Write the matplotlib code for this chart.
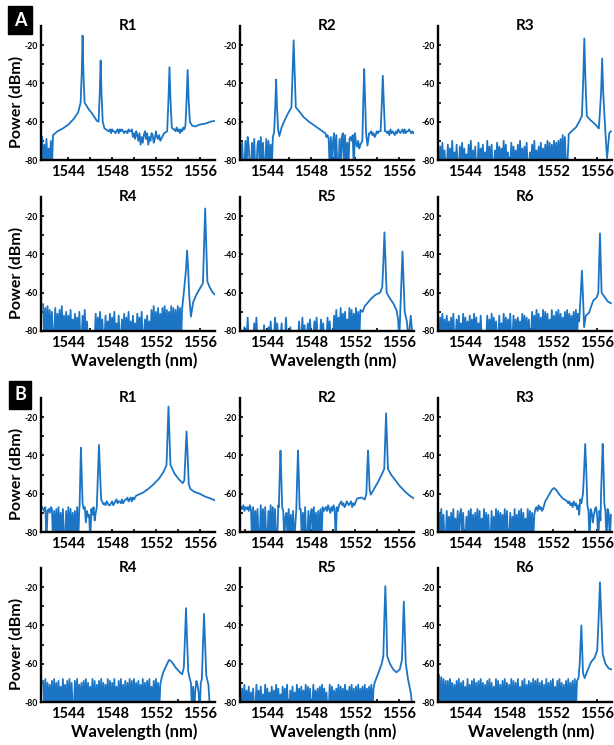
import matplotlib
matplotlib.use("Agg")
import matplotlib.pyplot as plt

plt.rcParams['font.family'] = ['Lato', 'DejaVu Sans']
plt.rcParams['font.weight'] = 'bold'

# spectra: (wavelength nm, power dBm) points, or (start nm, top dBm, "noise")
# noise string: one sample every 0.1 nm, digit = dB below top, x = dropout
A_R1 = [
    (1541.6, -66, "2x6x3x8x4x"),
    (1542.6, -67), (1543.0, -65), (1543.5, -63.5), (1544.0, -61.5), (1544.5, -58.5),
    (1544.9, -55), (1545.12, -50), (1545.22, -35), (1545.3, -15), (1545.38, -35),
    (1545.48, -50), (1545.8, -53),
    (1546.2, -56), (1546.6, -59.5), (1546.76, -60), (1546.87, -45), (1546.95, -28),
    (1547.03, -45), (1547.14, -60),
    (1547.3, -63.5), (1547.55, -64.5),
    (1547.7, -63, "2131223213 1212322312 21"),
    (1549.9, -65, "3140251736 2041735126 403425"),
    (1552.75, -66), (1553.03, -65), (1553.15, -48), (1553.24, -31.5), (1553.33, -48),
    (1553.45, -63), (1553.6, -64),
    (1553.7, -63, "1202131201"),
    (1554.7, -62), (1554.81, -48), (1554.9, -33), (1554.99, -48), (1555.1, -60),
    (1555.3, -62), (1555.6, -62.5),
    (1556.0, -61.5), (1556.5, -61), (1557.0, -60), (1557.4, -59.5),
]
A_R2 = [
    (1541.5, -68, "1x3xx2x05x x3x1xx42x0 x3xx1x2x4x 0"),
    (1544.62, -65.5), (1544.72, -52), (1544.8, -38), (1544.88, -52), (1544.98, -64),
    (1545.1, -67.5), (1545.3, -63),
    (1545.6, -59), (1545.9, -55.5), (1546.2, -52.5), (1546.3, -35), (1546.4, -17.5),
    (1546.5, -35), (1546.6, -52.5),
    (1546.9, -54.5), (1547.3, -57.5), (1547.8, -60), (1548.3, -62), (1548.8, -64),
    (1549.15, -65.5),
    (1549.3, -65, "1324x3x51x 2xx4x31x2x 6x4352x1"),
    (1552.1, -68, "35264"),
    (1552.68, -70), (1552.77, -48), (1552.85, -32.5), (1552.93, -48), (1553.02, -66),
    (1553.15, -72.5), (1553.3, -66),
    (1553.4, -64, "213243121"),
    (1554.35, -65), (1554.46, -50), (1554.55, -36), (1554.64, -50), (1554.75, -65),
    (1554.85, -64, "1213021231 2012102021 101212"),
]
A_R3 = [
    (1541.6, -70, "x3x1x5xx2x 4x0x6x2xx3 x1x4x7x2x0 x5x3xx1x4x 2x6x0x3x2x x5x1x3x4x0"
                  "x2x6xx1x3x 5x2x0x4x3x 1xx6x2x0x5 x3x1x4x2x0 x1x2x0x1x0"),
    (1552.6, -67, "x2x0x1x"),
    (1553.3, -85), (1553.45, -66.5), (1553.8, -64.5), (1554.1, -63), (1554.4, -60),
    (1554.65, -57), (1554.77, -38), (1554.87, -16.5), (1554.97, -38), (1555.1, -57),
    (1555.4, -59), (1555.8, -61),
    (1556.2, -63.5), (1556.4, -45), (1556.5, -27), (1556.6, -45), (1556.8, -66),
    (1556.95, -79), (1557.15, -66), (1557.3, -65),
]
A_R4 = [
    (1541.7, -66, "0x2x1x3x4x x2x5x3x1x6"),
    (1543.7, -69, "x1x3x0x5x2 x4x1xx3x0x 6x"),
    (1545.9, -80, "xxxxxx"),
    (1546.5, -70, "1x3x0x4xx2 x5x1x3x0x6 x2xx4x1x3x 0x5x2x6x1x 3x0xx4x2x5"),
    (1551.5, -67, "x2x0x3x1x4 x1x0x2x3x0 x1x2x0x1x"),
    (1554.4, -68), (1554.55, -60), (1554.75, -48), (1554.85, -38), (1554.95, -48),
    (1555.05, -62), (1555.12, -67),
    (1555.2, -72.5), (1555.4, -65), (1555.7, -61), (1556.0, -58), (1556.3, -55),
    (1556.4, -36), (1556.5, -16), (1556.6, -36), (1556.7, -54), (1556.9, -57),
    (1557.2, -60), (1557.4, -61),
]
A_R5 = [
    (1541.6, -73, "xxx5xx0xxx xx3x0xxxxx x4xxx5x2xx x0x3xxx3xx x0xxx5xxxx xxx2xx0x4x"
                  "x3x1xxx2x0 xxx1x3xxx0 x2xx"),
    (1550.0, -68, "x4x1x5x0x3 x2x6x0x1x3 x0x2x1"),
    (1552.7, -70), (1552.9, -67), (1553.2, -65), (1553.5, -63), (1553.9, -61),
    (1554.3, -60), (1554.5, -57), (1554.6, -44), (1554.7, -28.5), (1554.8, -44),
    (1554.9, -60), (1555.2, -63),
    (1555.5, -65.5), (1555.8, -69), (1555.95, -74), (1556.05, -85), (1556.15, -70),
    (1556.26, -52), (1556.35, -38.5), (1556.44, -52), (1556.55, -70), (1556.75, -75),
    (1556.9, -85), (1557.1, -72), (1557.3, -85),
]
A_R6 = [
    (1541.6, -71, "x2x0x3x1x4 x2x0xx3x1x 5x0x2x4x1x 3x0x2x5x1"),
    (1545.5, -80, "xxxxx"),
    (1546.0, -71, "1x3x0x2x4x x1x5x0x2x3 x0xx1x3x2x 4x0x1x2x3x"),
    (1550.0, -69, "x1x3x0x2x4 x0x1x2x5x0 x3x1x0x2x4 x1x0x2x3x1 x0x2"),
    (1554.4, -75), (1554.55, -60), (1554.65, -48.5), (1554.75, -62), (1554.85, -78),
    (1555.0, -72), (1555.3, -70.5),
    (1555.5, -67), (1555.7, -64), (1556.0, -62.5), (1556.15, -60), (1556.22, -45),
    (1556.3, -29), (1556.38, -45), (1556.45, -60), (1556.7, -62), (1557.0, -64.5),
    (1557.3, -65.5),
]
B_R1 = [
    (1541.6, -67, "0120x21301 x2x1x0x3x1 xx2x0x1x3x 2x0x1"),
    (1545.03, -66), (1545.09, -50), (1545.15, -36), (1545.22, -50), (1545.3, -65),
    (1545.4, -66, "219365x251 84"),
    (1546.6, -67), (1546.7, -50), (1546.8, -34.5), (1546.9, -50), (1547.0, -63),
    (1547.2, -65.5),
    (1547.3, -64, "1201221021"),
    (1548.3, -63, "1021120210"),
    (1549.3, -62, "10210201"),
    (1550.2, -61), (1550.8, -59.5), (1551.3, -57.5), (1551.8, -55), (1552.3, -52),
    (1552.7, -48.5), (1552.97, -45), (1553.06, -30), (1553.15, -14.5), (1553.24, -30),
    (1553.33, -45), (1553.7, -49.5),
    (1554.1, -52.5), (1554.45, -54.5), (1554.6, -53), (1554.7, -40), (1554.8, -27.5),
    (1554.9, -40), (1555.0, -55),
    (1555.15, -57.5), (1555.5, -59), (1556.0, -60), (1556.5, -61.5), (1557.0, -62.5),
    (1557.4, -63.5),
]
B_R2 = [
    (1541.6, -66, "1203121302 x1x3x2xx0x 2x1xx3x0x1 x2xx0"),
    (1545.05, -67), (1545.12, -52), (1545.2, -37.5), (1545.28, -52), (1545.35, -67),
    (1545.45, -67, "2x53x1x4x2x"),
    (1546.65, -68), (1546.72, -52), (1546.8, -37.5), (1546.88, -52), (1546.95, -68),
    (1547.05, -67, "1x3x0xx2x4 1x0x3x2x1x 02"),
    (1549.25, -66, "2130241302 x130"),
    (1550.65, -64, "1021320121 0312"),
    (1552.2, -62.5), (1552.6, -62), (1552.9, -63), (1553.05, -60), (1553.12, -48),
    (1553.2, -37.5), (1553.28, -48), (1553.35, -58), (1553.45, -60.5), (1553.7, -58),
    (1554.1, -54), (1554.45, -50),
    (1554.68, -47), (1554.77, -32), (1554.85, -18), (1554.93, -32), (1555.02, -47),
    (1555.3, -50), (1555.7, -53),
    (1556.1, -56), (1556.6, -59), (1557.0, -61), (1557.4, -62.5),
]
B_R3 = [
    (1541.6, -68, "2x0x3xx1x4 x2x0x5x1x3 0x2xx4x1x0 x3x2x0x1x5 x0x2x3xx1x 4x0x1x2x3x"
                  "0x1xx2x4x0 x3x1x0x2x5 x0x1x2x3"),
    (1550.4, -66, "21302132"),
    (1551.3, -64), (1551.6, -61), (1551.9, -58), (1552.1, -57), (1552.3, -58),
    (1552.6, -60.5), (1552.9, -62.5), (1553.2, -63.5),
    (1553.3, -63, "1213241325 3802"),
    (1554.75, -60), (1554.85, -48), (1554.95, -34), (1555.05, -48), (1555.15, -66),
    (1555.25, -66, "3x2495216x38"),
    (1556.4, -60), (1556.47, -48), (1556.55, -34), (1556.63, -48), (1556.7, -65),
    (1556.8, -67, "2x13x4"),
]
B_R4 = [
    (1541.7, -68, "1x0x2x3x1x 0x2x1x4x0x 3x1x0x2xx1 x0x3x2x1x0 x2x4x0x1x3 x1x0x2x3x0"
                  "x1x2x0x4x1 x0x3x1x2x0 x1x0x2x1x3 x0x2x1x0x4 x1x0x2x3"),
    (1552.5, -68), (1552.7, -64), (1552.95, -61), (1553.2, -58), (1553.45, -59),
    (1553.8, -62), (1554.2, -64.5), (1554.4, -65.5), (1554.55, -62), (1554.66, -46),
    (1554.75, -31), (1554.84, -46), (1554.95, -64), (1555.1, -68),
    (1555.2, -68, "2x4x6137x2"),
    (1556.2, -68), (1556.3, -50), (1556.4, -34), (1556.5, -50), (1556.6, -66),
    (1556.8, -71), (1556.95, -85),
]
B_R5 = [
    (1541.6, -71, "x2x0x3x1x4 x2xx0x3x1x 5x0x2x4x1x 3x0x2x5x1x 2x0xx3x1x4 x0x2x1x3x0"
                  "x1x2xx0x3x 2x1x0x2x4x x0x1x3x2x0 x1x2x0x3x1 x0x2x1x0x2 x1x0x2x1x0 x2"),
    (1553.8, -70), (1554.0, -67), (1554.2, -64), (1554.45, -60), (1554.6, -56),
    (1554.69, -36), (1554.78, -19.5), (1554.87, -36), (1554.95, -56), (1555.2, -60),
    (1555.5, -63), (1555.8, -64.5),
    (1556.1, -63), (1556.3, -58), (1556.39, -42), (1556.47, -27.5), (1556.55, -42),
    (1556.65, -60), (1556.85, -68), (1557.1, -75), (1557.3, -85),
]
B_R6 = [
    (1541.6, -66, "0x1x2x3"),
    (1542.3, -68, "x1x0x2x3x1 x0x2x1x4x0 x3x1x0x2x1 x0x2x3x1x0 x2x4x0x1x3 x1x0x2x3x0"
                  "x1x2x0x4x1 x0x3x1x2x0 x1x0x2x1x3 x0x2x1x0x4 x1x0x2x3x1 x0x2x1x0x1 0"),
    (1554.35, -67), (1554.45, -60), (1554.53, -50), (1554.6, -40), (1554.67, -52),
    (1554.75, -65), (1554.9, -67.5),
    (1555.2, -63), (1555.5, -59), (1555.8, -57), (1556.05, -53), (1556.18, -36),
    (1556.3, -17.5), (1556.42, -36), (1556.55, -55), (1556.8, -60), (1557.1, -62.5),
    (1557.4, -63),
]

PANELS = {"A": [A_R1, A_R2, A_R3, A_R4, A_R5, A_R6],
          "B": [B_R1, B_R2, B_R3, B_R4, B_R5, B_R6]}
TITLES = ["R1", "R2", "R3", "R4", "R5", "R6"]
X_TICKS = [1544, 1548, 1552, 1556]
Y_TICKS = [-20, -40, -60, -80]

LINE = "#1b75c4"
W, H = 614, 745


def build(spec):
    wl, pw = [], []
    for item in spec:
        if len(item) == 2:
            wl.append(item[0])
            pw.append(item[1])
        else:
            start, top, code = item
            code = code.replace(" ", "")
            for i, c in enumerate(code):
                wl.append(start + i * 0.1)
                pw.append(-85 if c == "x" else top - int(c))
    return wl, pw


fig = plt.figure(figsize=(W / 100, H / 100), dpi=100)

col_left = [41, 240, 438]
row_top = {"A": [26, 197], "B": [398, 568]}
aw, ah = 174, 134

for panel, specs in PANELS.items():
    for k, spec in enumerate(specs):
        r, c = divmod(k, 3)
        top = row_top[panel][r]
        ax = fig.add_axes([col_left[c] / W, 1 - (top + ah) / H, aw / W, ah / H])
        wl, pw = build(spec)
        ax.plot(wl, pw, color=LINE, lw=1.3)
        ax.set_xlim(1541.5, 1557.4)
        ax.set_ylim(-80, -10)
        for s in ["top", "right"]:
            ax.spines[s].set_visible(False)
        for s in ["left", "bottom"]:
            ax.spines[s].set_linewidth(1.7)
        ax.set_xticks(X_TICKS)
        ax.set_xticklabels([str(t) for t in X_TICKS], fontsize=10.5, fontweight="bold")
        ax.set_xticks([1542, 1546, 1550, 1554], minor=True)
        ax.set_yticks(Y_TICKS)
        ax.set_yticklabels([str(t) for t in Y_TICKS], fontsize=6.2, fontweight="bold")
        ax.set_yticks([-30, -50, -70], minor=True)
        ax.tick_params(which="both", direction="in", length=2.5, width=1.2)
        ax.tick_params(axis="x", pad=3.5)
        ax.tick_params(axis="y", pad=2)
        ax.text(0.5, 1.0, TITLES[k], transform=ax.transAxes, ha="center", va="center",
                fontsize=11, fontweight="bold")
        if c == 0:
            yc = top + ah / 2 + 9
            fig.text(16 / W, 1 - yc / H, "Power (dBm)", rotation=90, ha="center",
                     va="center", fontsize=11.5, fontweight="bold")
        if r == 1:
            fig.text((col_left[c] + aw / 2 + 6) / W, 1 - (top + ah + 30) / H,
                     "Wavelength (nm)", ha="center", va="center", fontsize=12,
                     fontweight="bold")

# panel letters
for letter, y in [("A", 20), ("B", 395)]:
    fig.text(20 / W, 1 - y / H, letter, ha="center", va="center", color="white",
             fontsize=13, fontweight="bold",
             bbox=dict(boxstyle="square,pad=0.3", fc="black", ec="black"))

fig.savefig("out.png", dpi=100)
